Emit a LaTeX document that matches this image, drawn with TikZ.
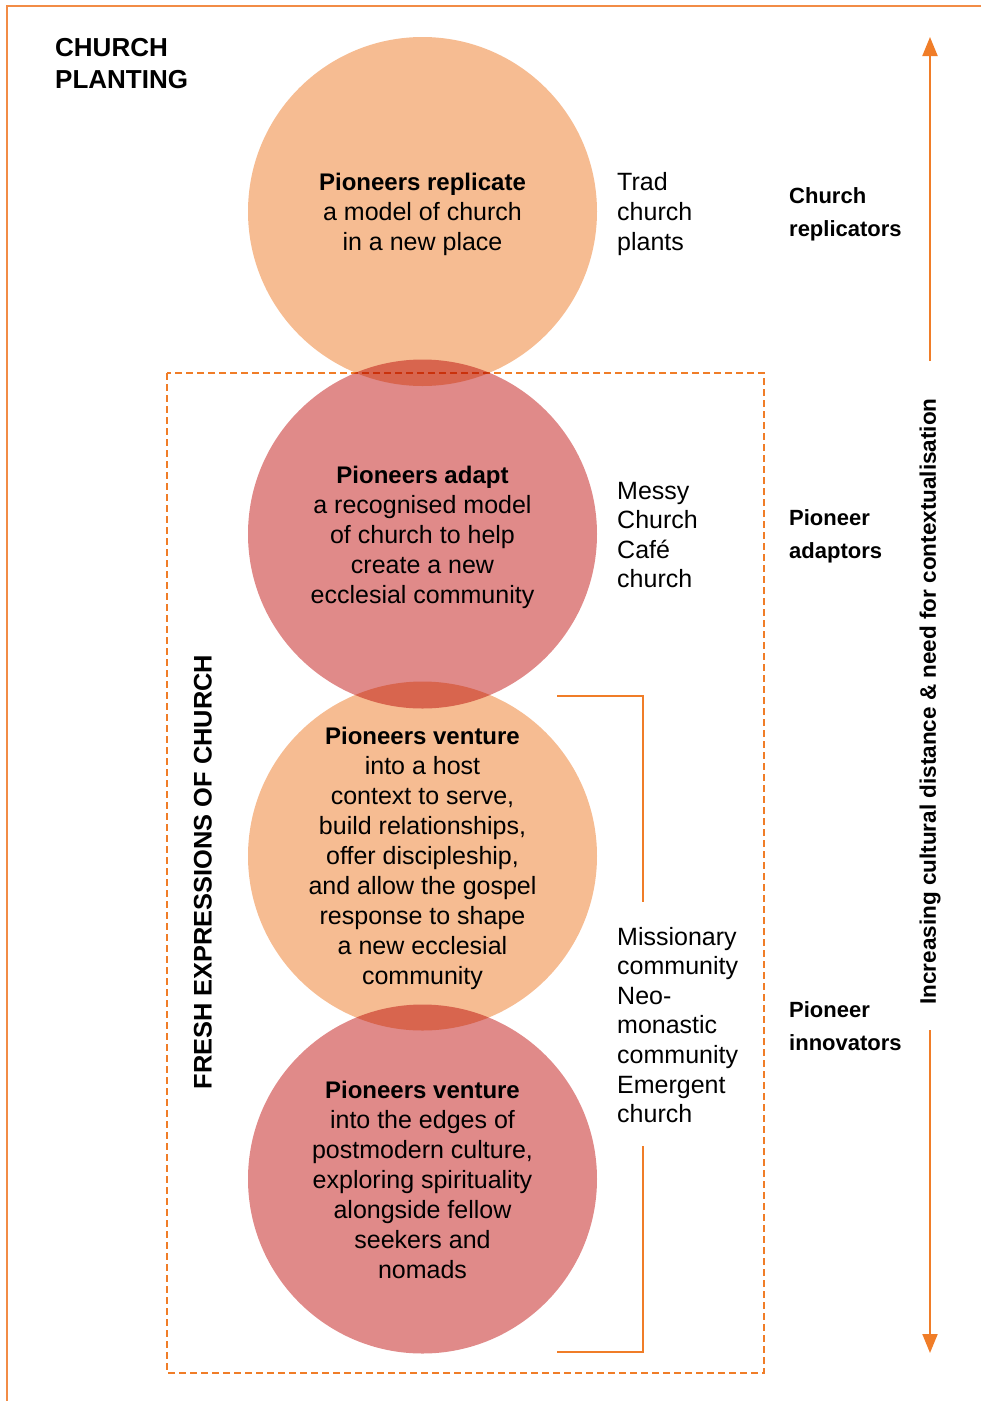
\documentclass[tikz,border=0pt]{standalone}
\usepackage{fontspec}
\setmainfont{Liberation Sans}
\usetikzlibrary{arrows.meta}
\definecolor{corange}{RGB}{246,188,146}
\definecolor{cpink}{RGB}{224,138,137}
\definecolor{lineor}{RGB}{240,125,40}
\definecolor{frameor}{RGB}{242,140,70}
\begin{document}
\begin{tikzpicture}[x=1pt,y=-1pt,
  disc/.style={circle, minimum size=349pt, inner sep=0pt, draw=none},
  body/.style={align=center, font=\fontsize{25}{30}\selectfont, inner sep=0pt},
  side/.style={align=left, anchor=west, font=\fontsize{25}{29.6}\selectfont, inner sep=0pt},
  role/.style={align=left, anchor=west, font=\bfseries\fontsize{22}{33}\selectfont, inner sep=0pt},
  orline/.style={draw=lineor, line width=2pt},
  arrowtip/.style={-{Triangle[width=15pt,length=19pt]}}]
\useasboundingbox (0,0) rectangle (981,1401);
% frame
\coordinate (fbl) at (7,1401);
\coordinate (ftl) at (7,6);
\coordinate (ftr) at (981,6);
\draw[draw=frameor, line width=2.2pt] (fbl) -- (ftl) -- (ftr);
% dashed box
\coordinate (dtl) at (167,373);
\coordinate (dbr) at (764,1373);
\draw[orline, line width=2.4pt, dash pattern=on 7pt off 4pt] (dtl) rectangle (dbr);
% circles
\begin{scope}[blend mode=multiply]
\node[disc, fill=corange] (c1) at (422.5,211.5) {};
\node[disc, fill=cpink]   (c2) at (422.5,534) {};
\node[disc, fill=corange] (c3) at (422.5,856) {};
\node[disc, fill=cpink]   (c4) at (422.5,1179) {};
\end{scope}
% circle texts
\node[body] (t1) at ([yshift=-3pt]c1.center) {{\bfseries\fontsize{24}{30}\selectfont Pioneers replicate}\\a model of church\\in a new place};
\node[body] (t2) at ([yshift=-3pt]c2.center) {{\bfseries\fontsize{24}{30}\selectfont Pioneers adapt}\\a recognised model\\of church to help\\create a new\\ecclesial community};
\node[body] (t3) at ([yshift=-2pt]c3.center) {{\bfseries\fontsize{24}{30}\selectfont Pioneers venture}\\into a host\\context to serve,\\build relationships,\\offer discipleship,\\and allow the gospel\\response to shape\\a new ecclesial\\community};
\node[body] (t4) at ([yshift=-1pt]c4.center) {{\bfseries\fontsize{24}{30}\selectfont Pioneers venture}\\into the edges of\\postmodern culture,\\exploring spirituality\\alongside fellow\\seekers and\\nomads};
% side labels
\node[side] (s1) at (617,214) {Trad\\church\\plants};
\node[side] (s2) at (617,535) {Messy\\Church\\Café\\church};
\node[side] (s3) at (617,1025) {Missionary\\community\\Neo-\\monastic\\community\\Emergent\\church};
% role labels
\node[role] (r1) at (789,214) {Church\\replicators};
\node[role] (r2) at (789,536) {Pioneer\\adaptors};
\node[role] (r3) at (789,1026) {Pioneer\\innovators};
% titles
\node[align=left, anchor=west, inner sep=0pt, font=\bfseries\fontsize{26}{32}\selectfont] (title) at (55,64) {CHURCH\\PLANTING};
\node[rotate=90, inner sep=0pt, font=\bfseries\fontsize{25.4}{30}\selectfont] (fresh) at (203,872) {FRESH EXPRESSIONS OF CHURCH};
% axis
\node[rotate=90, inner sep=0pt, font=\bfseries\fontsize{22.5}{27}\selectfont] (axis) at (930,701.5) {Increasing cultural distance \& need for contextualisation};
\coordinate (atop) at (930,37);
\coordinate (aup) at (930,361);
\coordinate (adown) at (930,1030);
\coordinate (abot) at (930,1353);
\draw[orline, arrowtip] (aup) -- (atop);
\draw[orline, arrowtip] (adown) -- (abot);
% bracket
\coordinate (b1) at (557,696);
\coordinate (b2) at (643,696);
\coordinate (b3) at (643,902);
\coordinate (b4) at (643,1146);
\coordinate (b5) at (643,1352);
\coordinate (b6) at (557,1352);
\draw[orline] (b1) -- (b2) -- (b3);
\draw[orline] (b4) -- (b5) -- (b6);
\end{tikzpicture}
\end{document}
